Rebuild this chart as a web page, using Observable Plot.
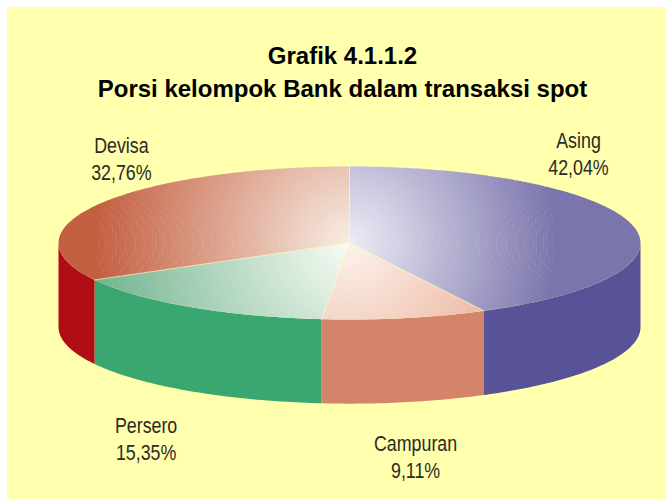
<!DOCTYPE html>
<html><head><meta charset="utf-8">
<script src="https://cdn.jsdelivr.net/npm/d3@7"></script>
<script src="https://cdn.jsdelivr.net/npm/@observablehq/plot@0.6"></script>
<style>
html,body{margin:0;padding:0;background:#fff;overflow:hidden;width:666px;height:499px}
#panel{position:absolute;left:7px;top:7px;right:0;bottom:0;background:#FFFFAD}
#title{position:absolute;left:0;top:39px;width:685px;text-align:center;font:bold 24px/33px "Liberation Sans",Arial,sans-serif;color:#000}
#chart{position:absolute;left:0;top:0}
#chart svg{background:transparent!important}
</style></head><body>
<div id="panel"></div><div id="title">Grafik 4.1.1.2<br>Porsi kelompok Bank dalam transaksi spot</div><div id="chart"></div>
<script>
const categories = ["Asing", "Campuran", "Persero", "Devisa"];
const shares = [42.04, 9.11, 15.35, 32.76];
const shareLabels = ["42,04%", "9,11%", "15,35%", "32,76%"];

const sideColors = ["#585296", "#D48468", "#3AA771", "#B00D14"];
const topOuter = ["#7B75AD", "#E8A98F", "#6FB28E", "#C45F42"];
const topInner = ["#ECECF6", "#FCF2EC", "#F8FCF6", "#F8ECE4"];
const fadeRadius = [0.70, 0.68, 0.88, 0.86];
const labelX = [0.787, 0.227, -0.699, -0.784];
const labelY = [-0.309, 0.732, 0.670, -0.294];

const tilt = 0.263, depth = 0.289, ringStep = 0.0115, ringLap = 0.0012;
const arcs = d3.pie().sort(null).startAngle(0).endAngle(2 * Math.PI)(shares);

// pie angle (0 at top, clockwise) -> on-screen direction of the tilted disc
const screenAngle = a => { const t = Math.atan2(Math.sin(a), tilt * Math.cos(a)); return t < -1e-9 ? t + 2 * Math.PI : t; };
const rimRadius = t => 1 / Math.hypot(Math.sin(t), Math.cos(t) / tilt);

const sideRows = [], topRows = [], spokes = [];
arcs.forEach((arc, i) => {
  const a0 = Math.max(arc.startAngle, Math.PI / 2), a1 = Math.min(arc.endAngle, 1.5 * Math.PI);
  if (a1 > a0) {
    const as = d3.range(a0, a1, Math.PI / 180).concat(a1);
    const pts = as.map(a => [Math.sin(a), -tilt * Math.cos(a)]);
    const ring = pts.concat(pts.slice().reverse().map(([x, y]) => [x, y + depth]));
    ring.forEach(([x, y]) => sideRows.push({x, y, z: i, fill: sideColors[i]}));
  }
  const t0 = arc.startAngle === 0 ? 0 : screenAngle(arc.startAngle);
  const t1 = arc.endAngle >= 2 * Math.PI - 1e-6 ? 2 * Math.PI : screenAngle(arc.endAngle);
  const samples = d3.range(t0, t1, Math.PI / 110);
  for (let a = arc.startAngle; a < arc.endAngle; a += Math.PI / 120) samples.push(screenAngle(a) || 0);
  samples.push(t1);
  const ts = Array.from(new Set(samples.filter(t => t >= t0 && t <= t1))).sort(d3.ascending);
  const maxR = fadeRadius[i];
  const mix = d3.interpolateRgb(topInner[i], topOuter[i]);
  const n = Math.round(maxR / ringStep);
  for (let k = 0; k <= n; k++) {
    const rIn = Math.max(0, k * ringStep - ringLap), rOut = k === n ? 2 : (k + 1) * ringStep;
    const fill = k === n ? topOuter[i] : mix(k / n);
    const outer = ts.map(t => { const r = Math.min(rOut, rimRadius(t)); return {x: r * Math.sin(t), y: -r * Math.cos(t)}; });
    const inner = ts.map(t => { const r = Math.min(rIn, rimRadius(t)); return {x: r * Math.sin(t), y: -r * Math.cos(t)}; }).reverse();
    const z = i + "-" + k;
    outer.concat(inner).forEach(p => topRows.push({...p, z, fill}));
  }
  spokes.push({x: 0, y: 0, z: i}, {x: Math.sin(arc.startAngle), y: -tilt * Math.cos(arc.startAngle), z: i});
});

const labels = categories.map((c, i) => ({x: labelX[i], y: labelY[i], text: c + "\n" + shareLabels[i]}));

const plot = Plot.plot({
  width: 666, height: 499, margin: 0,
  x: {domain: [-1, 1], range: [58, 640], axis: null},
  y: {domain: [-1, 1], range: [-48.5, 533.5], axis: null},
  color: {type: "identity"},
  style: {background: "transparent", overflow: "visible"},
  marks: [
    Plot.line(sideRows, {x: "x", y: "y", z: "z", fill: "fill", stroke: "none"}),
    Plot.line(topRows, {x: "x", y: "y", z: "z", fill: "fill", stroke: "none"}),
    Plot.line(spokes, {x: "x", y: "y", z: "z", stroke: "#FFFFC0", strokeWidth: 1, strokeOpacity: 0.6}),
    Plot.text(labels, {x: "x", y: "y", text: "text", fontSize: 22, lineHeight: 1.23,
      fontFamily: '"Liberation Sans",Arial,sans-serif', fill: "#2A2A26"})
  ]
});
// the reference's labels are set in a condensed face: narrow the installed one
d3.select(plot).selectAll("text").attr("transform", function () {
  return (this.getAttribute("transform") || "") + " scale(0.81,1)";
});
document.getElementById("chart").appendChild(plot);
</script></body></html>
